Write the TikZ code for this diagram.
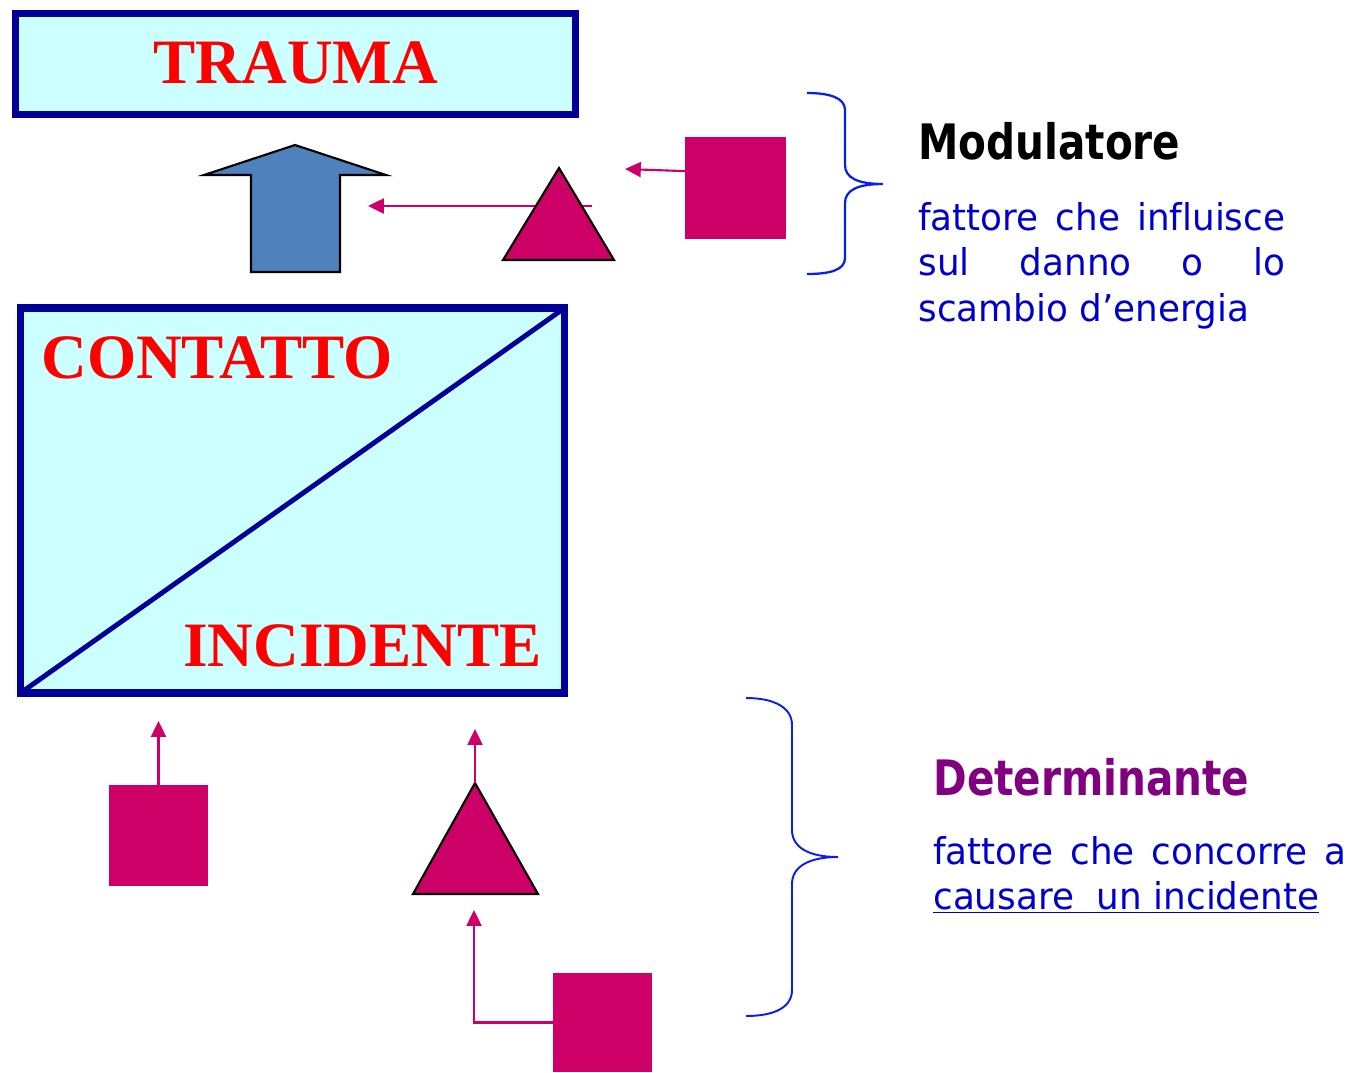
\documentclass[tikz,border=0pt]{standalone}
\usepackage{fontspec}
\setmainfont{Liberation Serif}
\newfontfamily\headfont[FakeStretch=0.83]{DejaVu Sans}
\newfontfamily\bodyfont[Ligatures=NoCommon,FakeStretch=0.97]{DejaVu Sans}
\usetikzlibrary{arrows.meta}
\definecolor{boxfill}{HTML}{CCFFFF}
\definecolor{boxline}{HTML}{000099}
\definecolor{pinkc}{HTML}{CC0066}
\definecolor{arrowblue}{HTML}{4F81BD}
\definecolor{bracec}{HTML}{0A1EF0}
\definecolor{bodyblue}{HTML}{0000CC}
\definecolor{purp}{HTML}{800080}
\definecolor{redtxt}{HTML}{FF0000}
\begin{document}
\begin{tikzpicture}[x=0.02cm,y=-0.02cm,
  bigbox/.style={draw=boxline, fill=boxfill, line width=4.3pt, inner sep=0pt, outer sep=0pt},
  bigtext/.style={text=redtxt, font=\fontsize{36}{40}\selectfont\bfseries, inner sep=0pt},
  pinksq/.style={fill=pinkc, draw=none, inner sep=0pt, outer sep=0pt},
  pinktri/.style={fill=pinkc, draw=black, line width=1.2pt, line join=miter},
  conn/.style={draw=pinkc, line width=1.2pt, -{Triangle[length=9pt,width=8.5pt]}},
  bracestyle/.style={draw=bracec, line width=1.3pt},
  headtxt/.style={font=\headfont\bfseries\fontsize{27.8}{32}\selectfont, inner sep=0pt, anchor=base west},
  bodytxt/.style={text=bodyblue, inner sep=0pt, anchor=base west, font=\bodyfont\fontsize{21}{26.08}\selectfont}
]
\useasboundingbox (0,0) rectangle (1355,1072);

% TRAUMA box
\node[bigbox, minimum width=11.2cm, minimum height=2.02cm] (trauma) at (295.5,64) {};
\node[bigtext, anchor=base] (traumatxt) at (296,83) {TRAUMA};

% CONTATTO / INCIDENTE box
\node[bigbox, minimum width=10.88cm, minimum height=7.7cm] (contatto) at (292.5,500.5) {};
\draw[draw=boxline, line width=2.8pt] (contatto.south west) -- (contatto.north east);
\node[bigtext, anchor=base west] (contattotxt) at (41,378) {CONTATTO};
\node[bigtext, anchor=base east] (incidentetxt) at (542,666) {INCIDENTE};

% big blue arrow
\draw[fill=arrowblue, draw=black, line width=1.2pt, line join=miter]
  (295,145) -- (386,175) -- (340,175) -- (340,272) -- (251,272) -- (251,175) -- (204,175) -- cycle;

% modulatore group
\coordinate (triAr) at (592,206);
\coordinate (tipB) at (368,206);
\draw[conn] (triAr) -- (tipB);
\draw[pinktri] (559,168) -- (614,260) -- (503,260) -- cycle;
\node[pinksq, minimum width=2.02cm, minimum height=2.04cm] (sqM) at (735.5,188) {};
\coordinate (tipM) at (625,169);
\draw[conn] ([yshift=9.6pt]sqM.west) -- (tipM);

% bottom group
\node[pinksq, minimum width=1.98cm, minimum height=2.02cm] (sq1) at (158.5,835.5) {};
\coordinate (tip1) at (158.5,721);
\draw[conn] (sq1.north) -- (tip1);

\coordinate (triBapex) at (475,783);
\draw[pinktri] (triBapex) -- (538,894) -- (413,894) -- cycle;
\coordinate (tip2) at (475,729);
\draw[conn] (triBapex) -- (tip2);

\node[pinksq, minimum width=1.98cm, minimum height=1.98cm] (sq3) at (602.5,1022.5) {};
\coordinate (tip3) at (474,910);
\draw[conn] (sq3.west) -| (tip3);

% braces
\draw[bracestyle] (807,93) .. controls (830,93) and (845,98) .. (845,110) -- (845,165)
  .. controls (845,178) and (858,184) .. (883,184)
  .. controls (858,184) and (845,190) .. (845,203) -- (845,258)
  .. controls (845,270) and (830,274) .. (807,274);
\draw[bracestyle, line width=1.1pt] (746,698) .. controls (775,698) and (792,708) .. (792,725) -- (792,830)
  .. controls (792,848) and (810,857) .. (838,857)
  .. controls (810,857) and (792,866) .. (792,884) -- (792,990)
  .. controls (792,1007) and (775,1016) .. (746,1016);

% texts
\node[headtxt, text=black] (modhead) at (918,159) {Modulatore};
\node[bodytxt] (modbody) at (918,230) {\parbox[t]{7.34cm}{\makebox[7.34cm][s]{fattore che influisce}\\\makebox[7.34cm][s]{sul danno o lo}\\scambio d’energia}};

\node[headtxt, text=purp] (dethead) at (933,795) {Determinante};
\node[bodytxt] (detbody) at (933,864) {\parbox[t]{8.3cm}{\makebox[8.26cm][s]{fattore che concorre a}\\\underline{causare\ \ un incidente}}};
\end{tikzpicture}
\end{document}
